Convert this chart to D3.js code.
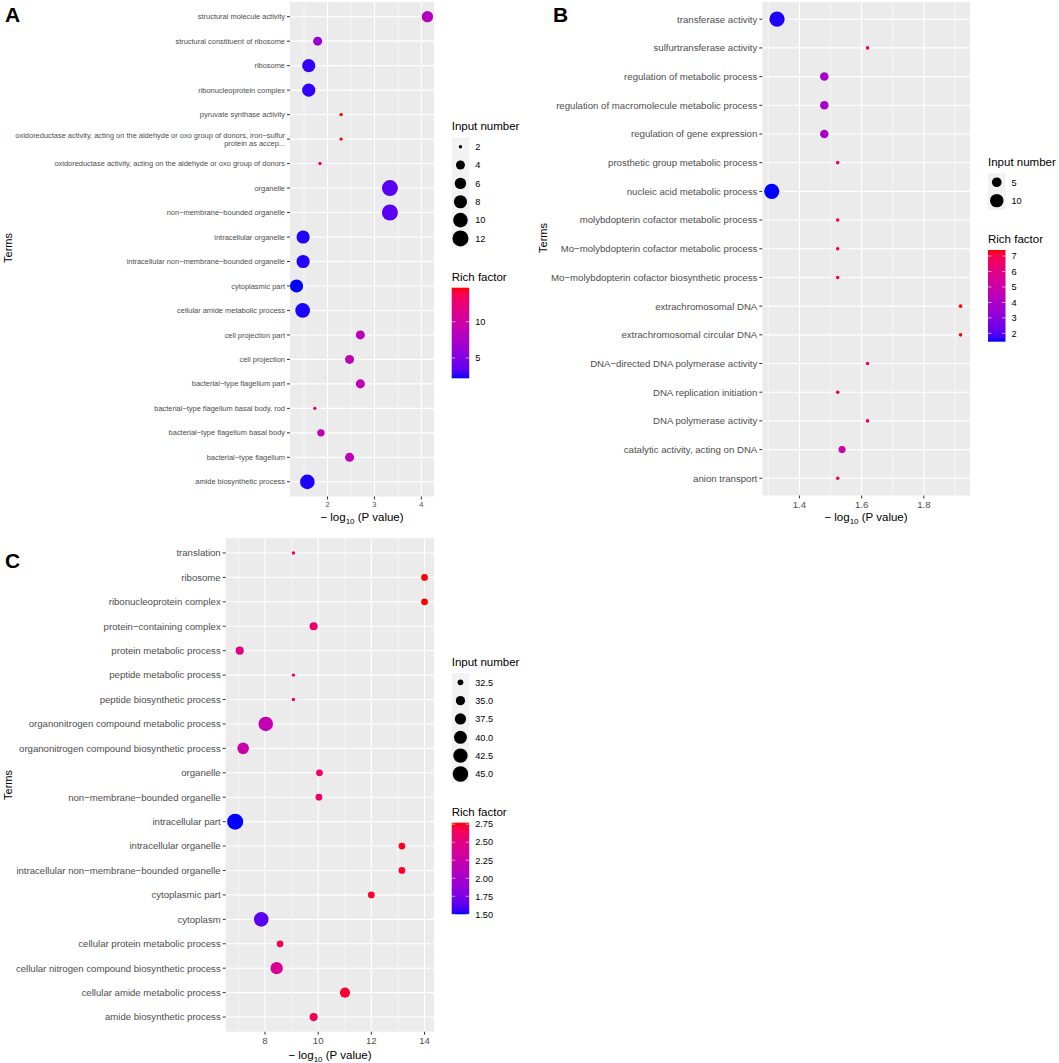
<!DOCTYPE html>
<html>
<head>
<meta charset="utf-8">
<script src="https://cdn.jsdelivr.net/npm/d3@7"></script>
<style>
  html, body { margin: 0; padding: 0; background: #fff; }
  svg { display: block; font-family: "Liberation Sans", Arial, sans-serif; }
</style>
</head>
<body>
<div id="chart"></div>
<script>
// ---- Panel A data (top to bottom) ----
const termsA = [
  "structural molecule activity",
  "structural constituent of ribosome",
  "ribosome",
  "ribonucleoprotein complex",
  "pyruvate synthase activity",
  "oxidoreductase activity, acting on the aldehyde or oxo group of donors, iron\u2212sulfur\nprotein as accep...",
  "oxidoreductase activity, acting on the aldehyde or oxo group of donors",
  "organelle",
  "non\u2212membrane\u2212bounded organelle",
  "intracellular organelle",
  "intracellular non\u2212membrane\u2212bounded organelle",
  "cytoplasmic part",
  "cellular amide metabolic process",
  "cell projection part",
  "cell projection",
  "bacterial\u2212type flagellum part",
  "bacterial\u2212type flagellum basal body, rod",
  "bacterial\u2212type flagellum basal body",
  "bacterial\u2212type flagellum",
  "amide biosynthetic process"
];
const logPA  = [4.13, 1.79, 1.60, 1.60, 2.29, 2.29, 1.84, 3.33, 3.33, 1.48, 1.48, 1.34, 1.47, 2.70, 2.47, 2.70, 1.73, 1.86, 2.47, 1.57];
const countA = [6, 4, 8, 8, 2, 2, 2, 12, 12, 8, 8, 8, 10, 4, 4, 4, 2, 3, 4, 10];
const richA  = [8.1, 6.3, 2.6, 2.6, 14.7, 14.7, 13.2, 3.45, 3.45, 2.35, 2.35, 2.2, 2.3, 8.6, 8.6, 8.6, 12.6, 8.8, 8.6, 2.3];
const sizeBreaksA = [2, 4, 6, 8, 10, 12];
const colorBreaksA = [5, 10];
const xTicksA = [2, 3, 4];

// ---- Panel B data ----
const termsB = [
  "transferase activity",
  "sulfurtransferase activity",
  "regulation of metabolic process",
  "regulation of macromolecule metabolic process",
  "regulation of gene expression",
  "prosthetic group metabolic process",
  "nucleic acid metabolic process",
  "molybdopterin cofactor metabolic process",
  "Mo\u2212molybdopterin cofactor metabolic process",
  "Mo\u2212molybdopterin cofactor biosynthetic process",
  "extrachromosomal DNA",
  "extrachromosomal circular DNA",
  "DNA\u2212directed DNA polymerase activity",
  "DNA replication initiation",
  "DNA polymerase activity",
  "catalytic activity, acting on DNA",
  "anion transport"
];
const logPB  = [1.328, 1.619, 1.480, 1.480, 1.480, 1.523, 1.311, 1.523, 1.523, 1.523, 1.918, 1.918, 1.619, 1.523, 1.619, 1.537, 1.523];
const countB = [13, 2, 4, 4, 4, 2, 13, 2, 2, 2, 2, 2, 2, 2, 2, 3, 2];
const richB  = [1.52, 7.0, 3.85, 3.85, 3.85, 6.8, 1.46, 6.8, 6.8, 6.8, 7.39, 7.39, 7.0, 6.8, 7.0, 5.0, 6.8];
const sizeBreaksB = [5, 10];
const colorBreaksB = [2, 3, 4, 5, 6, 7];
const xTicksB = [1.4, 1.6, 1.8];

// ---- Panel C data ----
const termsC = [
  "translation",
  "ribosome",
  "ribonucleoprotein complex",
  "protein\u2212containing complex",
  "protein metabolic process",
  "peptide metabolic process",
  "peptide biosynthetic process",
  "organonitrogen compound metabolic process",
  "organonitrogen compound biosynthetic process",
  "organelle",
  "non\u2212membrane\u2212bounded organelle",
  "intracellular part",
  "intracellular organelle",
  "intracellular non\u2212membrane\u2212bounded organelle",
  "cytoplasmic part",
  "cytoplasm",
  "cellular protein metabolic process",
  "cellular nitrogen compound biosynthetic process",
  "cellular amide metabolic process",
  "amide biosynthetic process"
];
const logPC  = [9.07, 14.0, 14.0, 9.83, 7.05, 9.07, 9.07, 8.03, 7.18, 10.05, 10.03, 6.88, 13.15, 13.15, 12.0, 7.86, 8.57, 8.44, 11.01, 9.83];
const countC = [32, 33, 33, 34, 34, 32, 32, 43, 38, 33, 33, 46, 33, 33, 33, 43, 33, 39, 36, 34];
const richC  = [2.70, 2.77, 2.77, 2.55, 2.47, 2.70, 2.70, 2.20, 2.26, 2.60, 2.60, 1.50, 2.75, 2.75, 2.73, 1.63, 2.66, 2.38, 2.73, 2.66];
const sizeBreaksC = [32.5, 35, 37.5, 40, 42.5, 45];
const colorBreaksC = [1.5, 1.75, 2.0, 2.25, 2.5, 2.75];
const xTicksC = [8, 10, 12, 14];

const W = 1059, H = 1063;
const svg = d3.select("#chart").append("svg")
  .attr("width", W).attr("height", H)
  .attr("viewBox", `0 0 ${W} ${H}`);

const defs = svg.append("defs");

function drawPanel(cfg) {
  const g = svg.append("g");
  const n = cfg.terms.length;
  const rows = d3.range(n);

  // x: continuous with 5% expansion like ggplot
  const ext = d3.extent(cfg.logP);
  const pad = (ext[1] - ext[0]) * 0.05;
  const x = d3.scaleLinear().domain([ext[0] - pad, ext[1] + pad]).range([cfg.left, cfg.right]);
  // y: discrete, 0.6 step padding
  const y = d3.scalePoint().domain(rows).range([cfg.top, cfg.bottom]).padding(0.6);

  const sizeT = d3.scaleLinear().domain(d3.extent(cfg.count)).range([0, 1]);
  const rad = d3.scaleSqrt().domain([0, 1]).range(cfg.rRange);
  const radius = v => rad(Math.max(0, sizeT(v)));

  const color = d3.scaleLinear().domain(d3.extent(cfg.rich))
    .range(["blue", "red"]).interpolate(d3.interpolateRgb.gamma(2.2));

  // panel background
  g.append("rect")
    .attr("x", cfg.left).attr("y", cfg.top)
    .attr("width", cfg.right - cfg.left).attr("height", cfg.bottom - cfg.top)
    .attr("fill", "#EBEBEB");

  // minor vertical grid lines
  const step = cfg.xTicks[1] - cfg.xTicks[0];
  const minors = [];
  for (let i = -1; i < cfg.xTicks.length; i++) {
    const v = cfg.xTicks[0] + (i + 0.5) * step;
    if (v > x.domain()[0] && v < x.domain()[1]) minors.push(v);
  }
  g.selectAll(".minor").data(minors).join("line")
    .attr("x1", d => x(d)).attr("x2", d => x(d))
    .attr("y1", cfg.top).attr("y2", cfg.bottom)
    .attr("stroke", "#fff").attr("stroke-width", 0.55);

  g.selectAll(".vmajor").data(cfg.xTicks).join("line")
    .attr("x1", d => x(d)).attr("x2", d => x(d))
    .attr("y1", cfg.top).attr("y2", cfg.bottom)
    .attr("stroke", "#fff").attr("stroke-width", 1.1);

  g.selectAll(".hmajor").data(rows).join("line")
    .attr("x1", cfg.left).attr("x2", cfg.right)
    .attr("y1", d => y(d)).attr("y2", d => y(d))
    .attr("stroke", "#fff").attr("stroke-width", 1.1);

  // points
  g.selectAll(".pt").data(rows).join("circle")
    .attr("cx", d => x(cfg.logP[d]))
    .attr("cy", d => y(d))
    .attr("r", d => radius(cfg.count[d]))
    .attr("fill", d => color(cfg.rich[d]));

  // y axis
  const yAxis = g.append("g");
  yAxis.selectAll("line").data(rows).join("line")
    .attr("x1", cfg.left - 3).attr("x2", cfg.left)
    .attr("y1", d => y(d)).attr("y2", d => y(d))
    .attr("stroke", "#333").attr("stroke-width", 1);
  yAxis.selectAll("text").data(rows).join("text")
    .attr("x", cfg.left - 5)
    .attr("y", d => y(d))
    .attr("text-anchor", "end")
    .attr("font-size", cfg.fs)
    .attr("fill", "#4D4D4D")
    .each(function(d) {
      const lines = cfg.terms[d].split("\n");
      const el = d3.select(this);
      const lh = cfg.fs * 1.12;
      lines.forEach((ln, i) => {
        el.append("tspan")
          .attr("x", cfg.left - 5)
          .attr("y", y(d) + (i - (lines.length - 1) / 2) * lh + cfg.fs * 0.35)
          .text(ln);
      });
    });

  // x axis
  const xAxis = g.append("g");
  xAxis.selectAll("line").data(cfg.xTicks).join("line")
    .attr("x1", d => x(d)).attr("x2", d => x(d))
    .attr("y1", cfg.bottom).attr("y2", cfg.bottom + 3)
    .attr("stroke", "#333").attr("stroke-width", 1);
  xAxis.selectAll("text").data(cfg.xTicks).join("text")
    .attr("x", d => x(d))
    .attr("y", cfg.bottom + 5 + cfg.fs * 0.78)
    .attr("text-anchor", "middle")
    .attr("font-size", cfg.fs)
    .attr("fill", "#4D4D4D")
    .text(d => cfg.xFmt(d));

  // axis titles
  const xt = g.append("text")
    .attr("x", cfg.titleX).attr("y", cfg.titleY)
    .attr("text-anchor", "middle")
    .attr("font-size", 11.5).attr("fill", "#000");
  xt.append("tspan").text("\u2212 log");
  xt.append("tspan").attr("font-size", 8).attr("dy", 3).text("10");
  xt.append("tspan").attr("dy", -3).text(" (P value)");

  g.append("text")
    .attr("transform", `translate(${cfg.termsX},${cfg.termsY}) rotate(-90)`)
    .attr("text-anchor", "middle")
    .attr("font-size", 11).attr("fill", "#000")
    .text("Terms");

  // panel tag
  g.append("text")
    .attr("x", cfg.tag.x).attr("y", cfg.tag.y)
    .attr("font-size", 21).attr("font-weight", "bold")
    .text(cfg.tag.t);

  // size legend
  const lx = cfg.legendX, kw = 17.5, kh = 18.35;
  g.append("text")
    .attr("x", lx).attr("y", cfg.sizeTitleY)
    .attr("font-size", 11.5).text("Input number");
  g.append("rect")
    .attr("x", lx).attr("y", cfg.keyTop)
    .attr("width", kw).attr("height", kh * cfg.sizeBreaks.length)
    .attr("fill", "#F2F2F2");
  cfg.sizeBreaks.forEach((b, i) => {
    const cy = cfg.keyTop + kh * (i + 0.5);
    g.append("circle")
      .attr("cx", lx + kw / 2).attr("cy", cy)
      .attr("r", radius(b)).attr("fill", "#000");
    g.append("text")
      .attr("x", lx + kw + 6).attr("y", cy + 3.3)
      .attr("font-size", 9.2).text(cfg.sizeFmt(b));
  });

  // colour bar legend
  g.append("text")
    .attr("x", lx).attr("y", cfg.colorTitleY)
    .attr("font-size", 11.5).text("Rich factor");
  const gid = "grad" + cfg.tag.t;
  const grad = defs.append("linearGradient")
    .attr("id", gid).attr("x1", 0).attr("y1", 1).attr("x2", 0).attr("y2", 0);
  const cd = color.domain();
  d3.range(0, 1.0001, 0.05).forEach(t => {
    grad.append("stop")
      .attr("offset", t)
      .attr("stop-color", color(cd[0] + t * (cd[1] - cd[0])));
  });
  const bar = d3.scaleLinear().domain(cd).range([cfg.barTop + cfg.barH, cfg.barTop]);
  g.append("rect")
    .attr("x", lx).attr("y", cfg.barTop)
    .attr("width", kw).attr("height", cfg.barH)
    .attr("fill", `url(#${gid})`);
  cfg.colorBreaks.forEach(b => {
    const yy = bar(b);
    g.append("line")
      .attr("x1", lx).attr("x2", lx + kw / 5)
      .attr("y1", yy).attr("y2", yy)
      .attr("stroke", "#fff").attr("stroke-width", 0.6);
    g.append("line")
      .attr("x1", lx + kw - kw / 5).attr("x2", lx + kw)
      .attr("y1", yy).attr("y2", yy)
      .attr("stroke", "#fff").attr("stroke-width", 0.6);
    g.append("text")
      .attr("x", lx + kw + 6).attr("y", yy + 3.3)
      .attr("font-size", 9.2).text(cfg.colorFmt(b));
  });
}

drawPanel({
  terms: termsA, logP: logPA, count: countA, rich: richA,
  sizeBreaks: sizeBreaksA, colorBreaks: colorBreaksA, xTicks: xTicksA,
  xFmt: d3.format("d"), sizeFmt: d3.format("d"), colorFmt: d3.format("d"),
  left: 290, right: 434, top: 2, bottom: 496.5, fs: 7.45,
  titleX: 362, titleY: 520.5, termsX: 12, termsY: 248,
  tag: { x: 5, y: 22, t: "A" },
  legendX: 451.7, sizeTitleY: 130, keyTop: 137.5,
  colorTitleY: 280.7, barTop: 287.7, barH: 90.6,
  rRange: [1.7, 8]
});

drawPanel({
  terms: termsB, logP: logPB, count: countB, rich: richB,
  sizeBreaks: sizeBreaksB, colorBreaks: colorBreaksB, xTicks: xTicksB,
  xFmt: d3.format(".1f"), sizeFmt: d3.format("d"), colorFmt: d3.format("d"),
  left: 762.3, right: 970, top: 2, bottom: 495.5, fs: 9.65,
  titleX: 866, titleY: 520.5, termsX: 547, termsY: 238,
  tag: { x: 553, y: 22, t: "B" },
  legendX: 988, sizeTitleY: 165.6, keyTop: 173.1,
  colorTitleY: 243, barTop: 250, barH: 91.7,
  rRange: [1.8, 7.6]
});

drawPanel({
  terms: termsC, logP: logPC, count: countC, rich: richC,
  sizeBreaks: sizeBreaksC, colorBreaks: colorBreaksC, xTicks: xTicksC,
  xFmt: d3.format("d"), sizeFmt: d3.format(".1f"), colorFmt: d3.format(".2f"),
  left: 225.7, right: 434, top: 538.3, bottom: 1031.7, fs: 9.6,
  titleX: 330, titleY: 1059, termsX: 12, termsY: 785,
  tag: { x: 5, y: 568, t: "C" },
  legendX: 451.7, sizeTitleY: 665.7, keyTop: 673.1,
  colorTitleY: 816.3, barTop: 822.7, barH: 91.6,
  rRange: [1.7, 8]
});
</script>
</body>
</html>
